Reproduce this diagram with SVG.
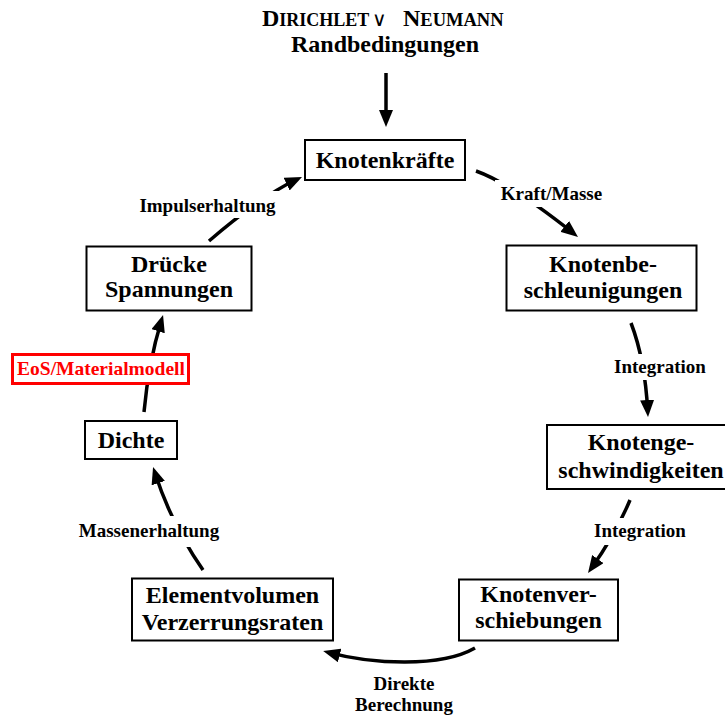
<svg xmlns="http://www.w3.org/2000/svg" width="725" height="718" viewBox="0 0 725 718">
<style>
  .box { fill: #fff; stroke: #000; stroke-width: 2; }
  .red { fill: #fff; stroke: #f00; stroke-width: 3; }
  .nt { font-family: "Liberation Serif", "Times New Roman", serif; font-weight: bold; font-size: 24px; text-anchor: middle; fill: #000; }
  .lt { font-family: "Liberation Serif", "Times New Roman", serif; font-weight: bold; font-size: 19px; text-anchor: middle; fill: #000; }
  .rt { font-family: "Liberation Serif", "Times New Roman", serif; font-weight: bold; font-size: 19.5px; text-anchor: middle; fill: #f00; }
  .tt { font-family: "Liberation Serif", "Times New Roman", serif; font-weight: bold; fill: #000; }
  .con { fill: none; stroke: #000; stroke-width: 3.5; marker-end: url(#ah); }
  .bg { fill: #fff; stroke: none; }
</style>
<defs>
  <marker id="ah" viewBox="0 0 17 14" markerWidth="17" markerHeight="14" refX="11" refY="7" orient="auto" markerUnits="userSpaceOnUse">
    <path d="M0,0 L17,7 L0,14 z" fill="#000"/>
  </marker>
</defs>
<rect width="725" height="718" fill="#fff"/>

<g id="title">
  <text class="tt" y="26"><tspan x="262" font-size="24">D</tspan><tspan font-size="18">IRICHLET</tspan><tspan x="372" font-size="20" font-weight="normal" font-family="DejaVu Sans, sans-serif">∨</tspan><tspan x="403" font-size="24">N</tspan><tspan font-size="18.5">EUMANN</tspan></text>
  <text class="nt" x="385" y="52">Randbedingungen</text>
</g>

<g id="connectors">
  <path class="con" d="M386,73 L386,121"/>
  <path class="con" d="M476,171 Q510,183 573.3,233.2"/>
  <path class="con" d="M631,323 Q645,359.6 647.7,411"/>
  <path class="con" d="M630,500 Q616,533.5 591.5,568.1"/>
  <path class="con" d="M475,648 C440,668 372,664 329,652.6"/>
  <path class="con" d="M203,570 Q172,525.6 154.9,472.7"/>
  <path class="con" d="M144,412 Q148.6,362.2 161.3,320.7"/>
  <path class="con" d="M209,241 Q261.8,195.8 296.6,179.5"/>
</g>

<g id="labels">
  <g id="label-kraft"><rect class="bg" x="495" y="180" width="113" height="27"/><text class="lt" x="551.5" y="200">Kraft/Masse</text></g>
  <g id="label-int1"><rect class="bg" x="610" y="354" width="100" height="26"/><text class="lt" x="660" y="373">Integration</text></g>
  <g id="label-int2"><rect class="bg" x="590" y="518" width="100" height="27"/><text class="lt" x="640" y="537">Integration</text></g>
  <g id="label-direkt"><text class="lt" x="404" y="690">Direkte</text><text class="lt" x="404" y="711">Berechnung</text></g>
  <g id="label-masse"><rect class="bg" x="74" y="516" width="150" height="31"/><text class="lt" x="149" y="537">Massenerhaltung</text></g>
  <g id="label-impuls"><rect class="bg" x="134" y="191" width="148" height="27"/><text class="lt" x="207.5" y="212">Impulserhaltung</text></g>
</g>

<g id="n-kraefte"><rect class="box" x="305" y="140" width="160" height="40"/><text class="nt" x="385" y="168">Knotenkräfte</text></g>
<g id="n-beschl"><rect class="box" x="506.5" y="245.5" width="190" height="65"/><text class="nt" x="603" y="272">Knotenbe-</text><text class="nt" x="603" y="298">schleunigungen</text></g>
<g id="n-geschw"><rect class="box" x="547" y="425" width="188" height="64"/><text class="nt" x="641" y="450">Knotenge-</text><text class="nt" x="641" y="478">schwindigkeiten</text></g>
<g id="n-versch"><rect class="box" x="459" y="579.5" width="159" height="61"/><text class="nt" x="538.5" y="602">Knotenver-</text><text class="nt" x="538.5" y="628">schiebungen</text></g>
<g id="n-elem"><rect class="box" x="132" y="578.5" width="201" height="62"/><text class="nt" x="232.5" y="603">Elementvolumen</text><text class="nt" x="232.5" y="630">Verzerrungsraten</text></g>
<g id="n-dichte"><rect class="box" x="85" y="421" width="92" height="38"/><text class="nt" x="131" y="448">Dichte</text></g>
<g id="n-eos"><rect class="red" x="12.5" y="354.5" width="176" height="29"/><text class="rt" x="101" y="375">EoS/Materialmodell</text></g>
<g id="n-druecke"><rect class="box" x="86.5" y="246.5" width="165" height="64"/><text class="nt" x="169" y="272">Drücke</text><text class="nt" x="169" y="297">Spannungen</text></g>
</svg>
